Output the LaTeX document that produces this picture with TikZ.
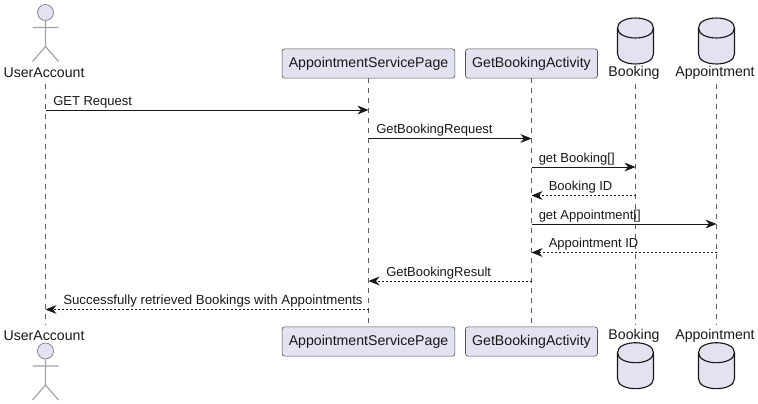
\documentclass[tikz,border=0pt]{standalone}
\usepackage{fontspec}
\setmainfont{Liberation Sans}
\usetikzlibrary{arrows.meta}
\definecolor{partfill}{RGB}{226,226,240}
\definecolor{partline}{RGB}{24,24,24}
\tikzset{
  partbox/.style={draw=partline!75,line width=0.45pt,fill=partfill,rounded corners=2pt,minimum height=22pt,inner xsep=5pt,inner ysep=0pt,text=partline,font=\fontsize{10.6}{12}\selectfont},
  partlabel/.style={minimum height=16.5pt,inner sep=0pt,text=partline,font=\fontsize{10.6}{12}\selectfont,execute at end node={\kern 2.25pt}},
  lifeline/.style={draw=partline!70,line width=0.4pt,dash pattern=on 3.75pt off 3.75pt},
  sendmsg/.style={draw=partline,line width=0.7pt,-{Stealth[length=8.25pt,width=6.6pt,inset=2.6pt]}},
  replymsg/.style={sendmsg,dash pattern=on 1.5pt off 1.5pt},
  msglabel/.style={anchor=base west,inner sep=0pt,text=partline,font=\fontsize{9.75}{11}\selectfont},
  actorfig/.pic={
    \draw[fill=partfill,draw=partline!60,line width=0.5pt] (0,-16) circle (8);
    \draw[draw=partline!40,line width=0.9pt] (0,-8) -- (0,18) (-13,-1) -- (13,-1) (-13,33) -- (0,18) -- (13,33);
  },
  dbfig/.pic={
    \draw[fill=partfill,draw=partline,line width=0.85pt] (-18,-13) .. controls (-18,-26.3) and (18,-26.3) .. (18,-13) -- (18,13) .. controls (18,26.3) and (-18,26.3) .. (-18,13) -- cycle;
    \draw[draw=partline,line width=0.85pt] (-18,-13) .. controls (-18,0.3) and (18,0.3) .. (18,-13);
  }
}
\begin{document}
\begin{tikzpicture}[x=0.75pt,y=0.75pt,yscale=-1,xscale=1]
  \useasboundingbox (0,0) rectangle (758,404);
  % top row
  \node[partlabel] (userTop) at (45.5,72.5) {UserAccount};
  \node[partbox] (pageTop) at (368.5,63.5) {AppointmentServicePage};
  \node[partbox] (activityTop) at (531.5,63.5) {GetBookingActivity};
  \node[partlabel] (bookingTop) at (635.5,72.5) {Booking};
  \node[partlabel] (apptTop) at (716.5,72.5) {Appointment};
  % bottom row
  \node[partlabel] (userBot) at (45.5,335.5) {UserAccount};
  \node[partbox] (pageBot) at (368.5,341.5) {AppointmentServicePage};
  \node[partbox] (activityBot) at (531.5,341.5) {GetBookingActivity};
  \node[partlabel] (bookingBot) at (635.5,335.5) {Booking};
  \node[partlabel] (apptBot) at (716.5,335.5) {Appointment};
  % figures
  \path (45.5,28.5) pic[yscale=-1] {actorfig} (45.5,367) pic[yscale=-1] {actorfig};
  \foreach \xpos in {635.5,716.5}{
    \path (\xpos,41) pic[yscale=-1] {dbfig} (\xpos,365.7) pic[yscale=-1] {dbfig};
  }
  % lifelines
  \foreach \part in {user,page,activity,booking,appt}{
    \draw[lifeline] (\part Top) -- (\part Bot);
  }
  % messages
  \foreach \ypos/\from/\to/\kind in {
    110/user/page/sendmsg,
    138.5/page/activity/sendmsg,
    167/activity/booking/sendmsg,
    195.5/booking/activity/replymsg,
    224/activity/appt/sendmsg,
    252.5/appt/activity/replymsg,
    281/activity/page/replymsg,
    309.5/page/user/replymsg}{
    \coordinate (msgFrom) at (\from Top |- 0,\ypos);
    \coordinate (msgTo) at (\to Top |- 0,\ypos);
    \draw[\kind] (msgFrom) -- (msgTo);
  }
  \node[msglabel] (m1) at (53,105) {GET Request};
  \node[msglabel] (m2) at (376,133.5) {GetBookingRequest};
  \node[msglabel] (m3) at (538.5,162) {get Booking[]};
  \node[msglabel] (m4) at (548.5,190.5) {Booking ID};
  \node[msglabel] (m5) at (538.5,219) {get Appointment[]};
  \node[msglabel] (m6) at (548.5,247.5) {Appointment ID};
  \node[msglabel] (m7) at (386,276) {GetBookingResult};
  \node[msglabel,font=\fontsize{9.95}{11}\selectfont] (m8) at (63,304.5) {Successfully retrieved Bookings with Appointments};
\end{tikzpicture}
\end{document}
